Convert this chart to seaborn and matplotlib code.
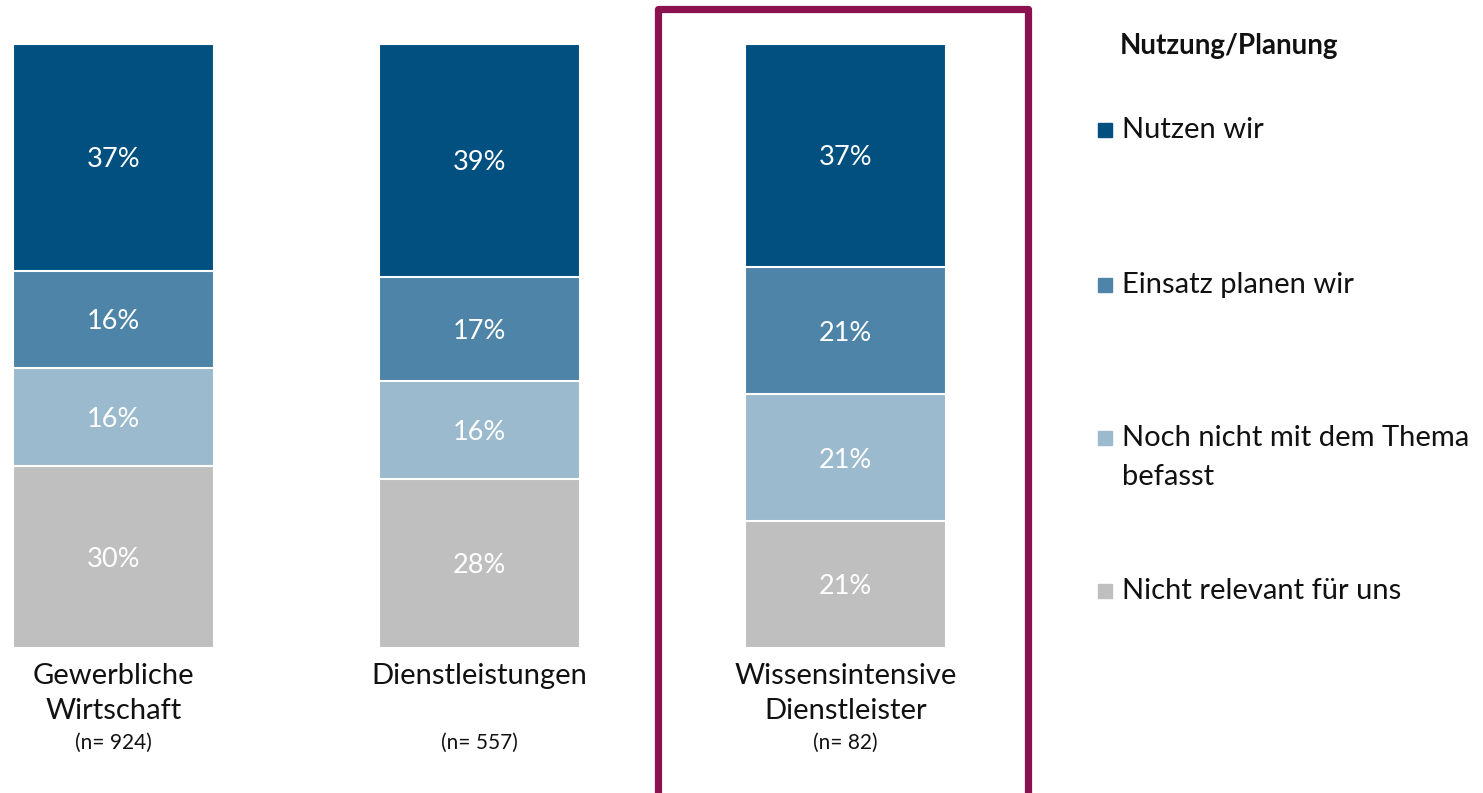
import numpy as np
import pandas as pd
import seaborn as sns
import matplotlib.pyplot as plt
from matplotlib.patches import Rectangle
import matplotlib.transforms as mtrans

# data
groups = ["Gewerbliche\nWirtschaft", "Dienstleistungen", "Wissensintensive\nDienstleister"]
n_labels = ["(n= 924)", "(n= 557)", "(n= 82)"]
nicht_relevant = [30.2, 28.0, 21.0]
noch_nicht = [16.1, 16.2, 21.0]
einsatz_planen = [16.2, 17.2, 21.1]
nutzen_wir = [37.5, 38.6, 36.9]
label_vals = {
    "Nicht relevant für uns": [30, 28, 21],
    "Noch nicht mit dem Thema\nbefasst": [16, 16, 21],
    "Einsatz planen wir": [16, 17, 21],
    "Nutzen wir": [37, 39, 37],
}

series = ["Nicht relevant für uns", "Noch nicht mit dem Thema\nbefasst",
          "Einsatz planen wir", "Nutzen wir"]
colors = ["#bfbfbf", "#9bbacd", "#4e84a8", "#02507f"]

sns.set_theme(style="white")
plt.rcParams["font.family"] = ["Lato", "DejaVu Sans"]

df = pd.DataFrame({"group": groups,
                   series[0]: nicht_relevant, series[1]: noch_nicht,
                   series[2]: einsatz_planen, series[3]: nutzen_wir})
cum = df[series].cumsum(axis=1)

fig = plt.figure(figsize=(14.83, 7.93), dpi=100)
W, H = 1483, 793
# axes in pixel terms: y from 44 to 648 px, x from 0 to 1050 px
ax = fig.add_axes([0, (H - 648) / H, 1050 / W, 604 / H])

# draw cumulative from top to bottom so lower segments sit on top
for s, c in zip(reversed(series), reversed(colors)):
    sns.barplot(x=np.arange(3), y=cum[s].values, color=c, width=0.549,
                saturation=1, edgecolor="white", linewidth=1.5, ax=ax,
                native_scale=True)

ax.set_xlim(-113.5 / 366, (1050 - 113.5) / 366)
ax.set_ylim(0, 100)
ax.axis("off")

# percent labels
for s in series:
    lo = cum[s] - df[s]
    for i in range(3):
        mid = lo[i] + df[s][i] / 2
        ax.text(i, mid - 0.4, f"{label_vals[s][i]}%", ha="center", va="center",
                color="white", fontsize=19.5)

# category labels
blend = mtrans.blended_transform_factory(ax.transData, fig.transFigure)
for i, g in enumerate(groups):
    ax.text(i, 1 - 663 / H, g, ha="center", va="top", fontsize=21,
            linespacing=1.45, transform=blend, color="#111111")
    ax.text(i, 1 - 743 / H, n_labels[i], ha="center", va="center",
            fontsize=15, transform=blend, color="#111111")

# highlight box
box = Rectangle((657.5 / W, -3 / H), 370 / W, (H - 9 + 3) / H,
                transform=fig.transFigure, fill=False, edgecolor="#8c1150",
                linewidth=5.2, joinstyle="round")
fig.patches.append(box)

# legend
fig.text(1120 / W, 1 - 46 / H, "Nutzung/Planung", fontsize=20, fontweight="bold",
         ha="left", va="center", color="#111111")
leg_y = [130, 285, 438, 591]
for s, c, y in zip(reversed(series), reversed(colors), leg_y):
    fig.patches.append(Rectangle((1098 / W, 1 - (y + 7) / H), 14 / W, 14 / H,
                                 transform=fig.transFigure, color=c))
    n_lines = s.count("\n") + 1
    # center of the first line sits at y
    fig.text(1122 / W, 1 - (y + (n_lines - 1) * 19.5) / H, s, fontsize=21,
             ha="left", va="center", linespacing=1.6, color="#111111")

fig.savefig("out.png", dpi=100)
